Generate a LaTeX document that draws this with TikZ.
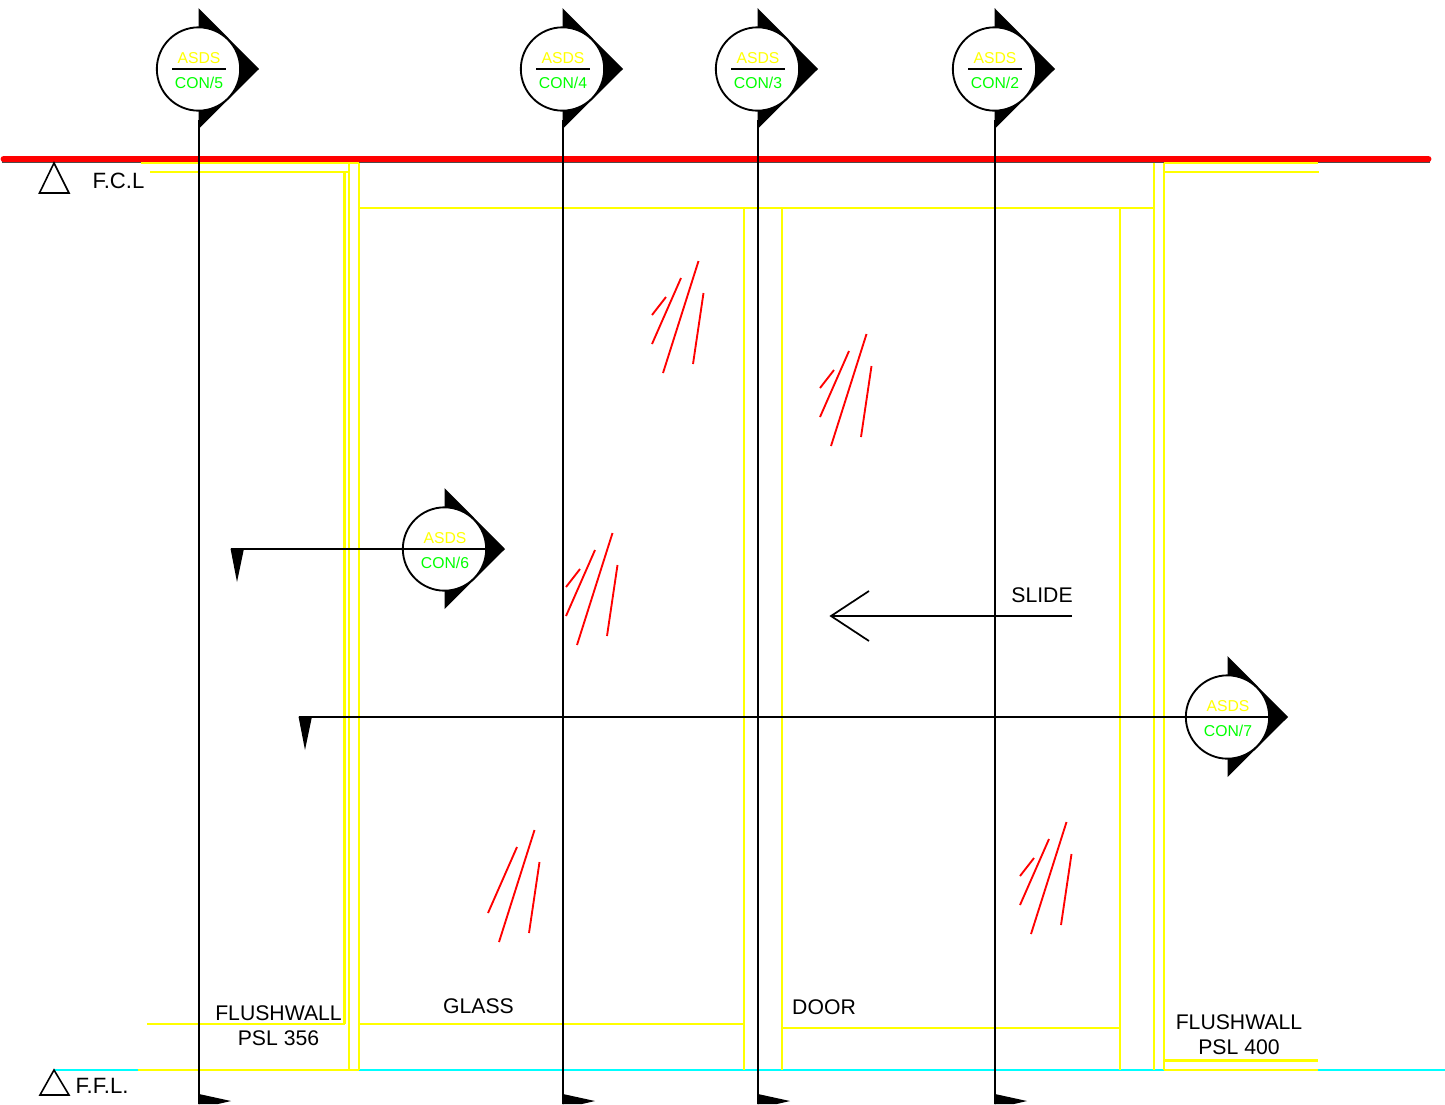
\documentclass[tikz,border=0pt]{standalone}
\usepackage{fontspec}
\setmainfont{Liberation Sans}
\definecolor{cadyel}{RGB}{255,255,0}
\definecolor{cadcy}{RGB}{0,255,255}
\definecolor{cadgr}{RGB}{0,255,0}
\definecolor{cadred}{RGB}{255,0,0}
\tikzset{
  x=0.75pt,y=-0.75pt,
  yel/.style={draw=cadyel,line width=1.7pt},
  cy/.style={draw=cadcy,line width=1.7pt},
  slash/.style={draw=cadred,line width=1.4pt},
  chain/.style={draw=black,line width=1.7pt,dash pattern=on 15.8pt off .3pt on 1.6pt off .3pt},
  bubble/.style={circle,draw=black,fill=white,line width=1.4pt,minimum size=62.5pt,inner sep=0pt},
  lab/.style={font=\fontsize{15.9pt}{18pt}\selectfont,inner sep=0pt,text=black},
  lvllab/.style={font=\fontsize{16.6pt}{18pt}\selectfont,inner sep=0pt,text=black},
  asds/.style={font=\fontsize{11.8pt}{14pt}\selectfont,inner sep=0pt,text=cadyel},
  cons/.style={font=\fontsize{11.8pt}{14pt}\selectfont,inner sep=0pt,text=cadgr},
  lvl/.style={draw=black,line width=1.2pt,line join=miter}
}
\newcommand{\mybubble}[4]{% name, x, y, number
  \fill[black] (#2-.5,#3-61) -- (#2+60,#3) -- (#2-.5,#3+60) -- cycle;
  \node[bubble] (#1) at (#2-.5,#3) {};
  \node[asds] (#1a) at (#2,#3-11) {ASDS};
  \node[cons] (#1b) at (#2,#3+13.5) {CON/#4};
}
\newcommand{\myslashes}[2]{% offset
  \draw[slash] (652+#1,344+#2) -- (681+#1,278+#2);
  \draw[slash] (663+#1,373+#2) -- (698.5+#1,261+#2);
  \draw[slash] (693+#1,364+#2) -- (703.5+#1,293+#2);
}
\newcommand{\mysmall}[2]{\draw[slash] (652+#1,315+#2) -- (666+#1,297+#2);}
\begin{document}
\begin{tikzpicture}
\useasboundingbox (0,0) rectangle (1445,1104);
% cyan floor
\draw[cy] (54,1070) -- (1445,1070);
% red ceiling
\draw[black!70,line width=1pt] (2,162) -- (1430,162);
\draw[cadred,line width=5.2pt,line cap=round] (4,159) -- (1428,159);
% yellow frame
\draw[yel] (141,163) -- (359,163);
\draw[yel] (150,172) -- (349,172);
\draw[yel] (344.5,172) -- (344.5,1024);
\draw[yel] (349,163) -- (349,1070);
\draw[yel] (359,163) -- (359,1070);
\draw[yel] (359,208) -- (1154,208);
\draw[yel] (1154,163) -- (1154,1070);
\draw[yel] (1164,163) -- (1164,1070);
\draw[yel] (1164,163) -- (1318,163);
\draw[yel] (1164,172) -- (1319,172);
\draw[yel] (147,1024) -- (344.5,1024);
\draw[yel] (359,1024) -- (744,1024);
\draw[yel] (138,1070) -- (359,1070);
\draw[yel] (1164,1070) -- (1318,1070);
\draw[yel] (1164,1060.5) -- (1318,1060.5);
\draw[yel] (744,208) -- (744,1070);
\draw[yel] (782,208) -- (782,1070);
\draw[yel] (782,1028) -- (1120,1028);
\draw[yel] (1120,208) -- (1120,1070);
% red slashes
\myslashes{0}{0}\mysmall{0}{0}
\myslashes{168}{73}\mysmall{168}{73}
\myslashes{-86}{272}\mysmall{-86}{272}
\myslashes{-164}{569}
\myslashes{368}{561}\mysmall{368}{561}
% level triangles
\draw[lvl] (54,163) -- (69,193) -- (39.5,193) -- cycle;
\draw[lvl] (54,1070) -- (69,1095) -- (40,1095) -- cycle;
% slide arrow
\coordinate (slideA) at (1072,616);
\coordinate (slideB) at (831,616);
\draw[black,line width=1.3pt] (slideA) -- (slideB);
\draw[black,line width=1.3pt] (869,591) -- (slideB) -- (869,641);
% section bubbles and lines
\coordinate (f5) at (199,1104);
\coordinate (f4) at (563,1104);
\coordinate (f3) at (758,1104);
\coordinate (f2) at (995,1104);
\coordinate (f6) at (231,549);
\coordinate (f6m) at (305,549);
\coordinate (r6) at (486,549);
\coordinate (f7) at (299,717);
\coordinate (f7m) at (380,717);
\coordinate (r7) at (1269,717);
\coordinate (t5) at (199,120);
\coordinate (t4) at (563,120);
\coordinate (t3) at (758,120);
\coordinate (t2) at (995,120);
\foreach \a/\b in {t5/f5,t4/f4,t3/f3,t2/f2} \draw[chain] (\a) -- (\b);
\foreach \x in {199,563,758,995}
  \fill[black] (\x,1094) -- (\x+32,1101) -- (\x+19,1104) -- (\x,1104) -- cycle;
\fill[black] (230.5,548.5) -- (244,548.5) -- (237,582) -- cycle;
\fill[black] (298.5,716.5) -- (312,716.5) -- (305,750) -- cycle;
\mybubble{c5}{199}{69}{5}
\mybubble{c4}{563}{69}{4}
\mybubble{c3}{758}{69}{3}
\mybubble{c2}{995}{69}{2}
\mybubble{c6}{445}{549}{6}
\mybubble{c7}{1228}{717}{7}
\foreach \n/\x in {c5/199,c4/563,c3/758,c2/995}
  \draw[black,line width=1.4pt] (\x-27,69) -- (\x+27,69);
\draw[black,line width=1.4pt] (f6) -- (f6m);
\draw[chain,line width=1.4pt] (f6m) -- (r6);
\draw[black,line width=1.7pt] (f7) -- (f7m);
\draw[chain] (f7m) -- (r7);
% labels
\node[lvllab] (tfcl) at (118.5,181) {F.C.L};
\node[lvllab] (tffl) at (102,1086) {F.F.L.};
\node[lab] (tslide) at (1042,595) {SLIDE};
\node[lab] (tdoor) at (824,1007) {DOOR};
\node[lab] (tglass) at (478.5,1006) {GLASS};
\node[lab] (tfw1) at (278.5,1013) {FLUSHWALL};
\node[lab] (tpsl1) at (278.5,1038) {PSL 356};
\node[lab] (tfw2) at (1239,1022) {FLUSHWALL};
\node[lab] (tpsl2) at (1239,1047) {PSL 400};
\end{tikzpicture}
\end{document}
